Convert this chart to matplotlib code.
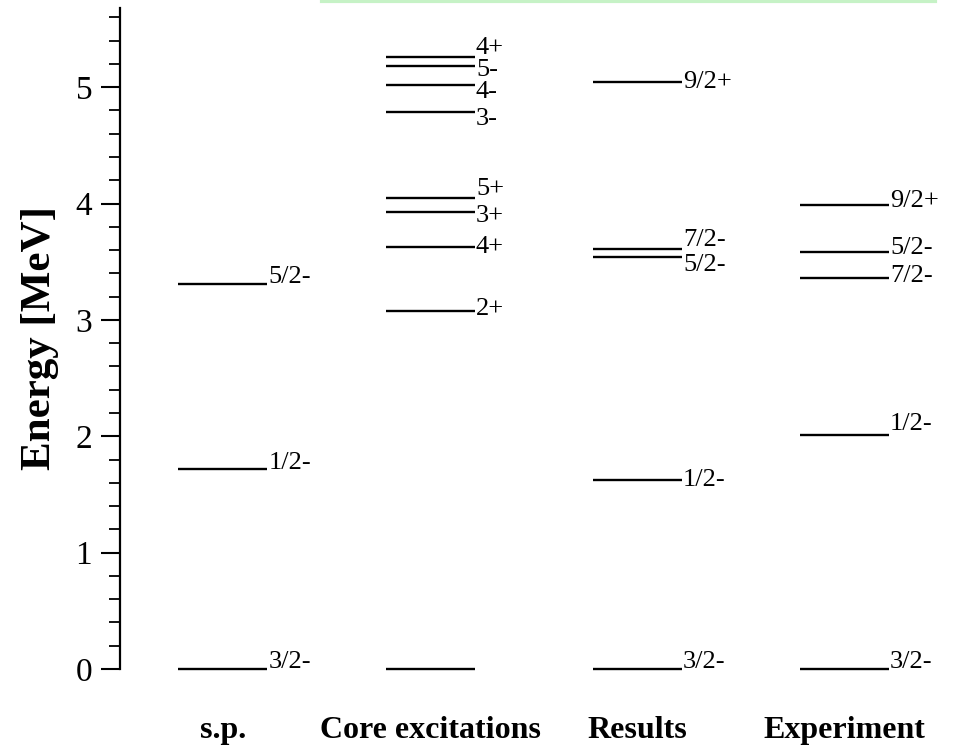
import numpy as np
import matplotlib.pyplot as plt
from matplotlib.lines import Line2D

plt.rcParams['font.family'] = ['Liberation Serif', 'DejaVu Serif']

# level schemes (energies in MeV)
columns = ['s.p.', 'Core excitations', 'Results', 'Experiment']

sp_E = [0.0, 1.72, 3.31]
sp_J = ['3/2-', '1/2-', '5/2-']

core_E = [0.0, 3.08, 3.63, 3.93, 4.05, 4.79, 5.02, 5.18, 5.26]
core_J = ['', '2+', '4+', '3+', '5+', '3-', '4-', '5-', '4+']

res_E = [0.0, 1.62, 3.54, 3.61, 5.04]
res_J = ['3/2-', '1/2-', '5/2-', '7/2-', '9/2+']

exp_E = [0.0, 2.01, 3.36, 3.58, 3.99]
exp_J = ['3/2-', '1/2-', '7/2-', '5/2-', '9/2+']

levels = [(sp_E, sp_J), (core_E, core_J), (res_E, res_J), (exp_E, exp_J)]

# small vertical label nudges (points) so crowded labels don't overlap
nudges = [
    [5, 4, 5],
    [0, 1, 0, -3, 6, -5, -5, -3, 6.5],
    [5, 0, -6, 6.5, 0],
    [5, 8, 1.5, 3.5, 3],
]

fig = plt.figure(figsize=(9.54, 7.47), dpi=100)
ax = fig.add_axes([120 / 954, 78 / 747, 834 / 954, 661 / 747])

half = 0.215
for i, (E, J) in enumerate(levels):
    for e, j, dy in zip(E, J, nudges[i]):
        ax.plot([i - half, i + half], [e, e], color='black', lw=1.7,
                clip_on=False, solid_capstyle='butt')
        if j:
            ax.annotate(j, (i + half, e), xytext=(1, dy), textcoords='offset points',
                        ha='left', va='center', fontsize=19, annotation_clip=False)

ax.set_xlim(-0.497, 3.53)
ax.set_ylim(0, 5.68)

for s in ['top', 'right', 'bottom']:
    ax.spines[s].set_visible(False)
ax.spines['left'].set_linewidth(1.6)

ax.set_yticks(np.arange(0, 6, 1))
ax.set_yticks(np.arange(0, 5.7, 0.2), minor=True)
ax.tick_params(axis='y', which='major', length=14, width=1.5, labelsize=24, pad=6)
ax.tick_params(axis='y', which='minor', length=8, width=1.3)

ax.set_xticks(range(len(columns)))
ax.set_xticklabels(columns, fontsize=23, fontweight='bold')
ax.tick_params(axis='x', length=0, pad=34)

ax.set_ylabel('Energy [MeV]', fontsize=31, fontweight='bold', labelpad=12)

# faint green rule along the top edge
fig.add_artist(Line2D([322 / 954, 935 / 954], [746 / 747, 746 / 747],
                      color='#c6f2c6', lw=3, transform=fig.transFigure))

fig.savefig('out.png', dpi=100)
